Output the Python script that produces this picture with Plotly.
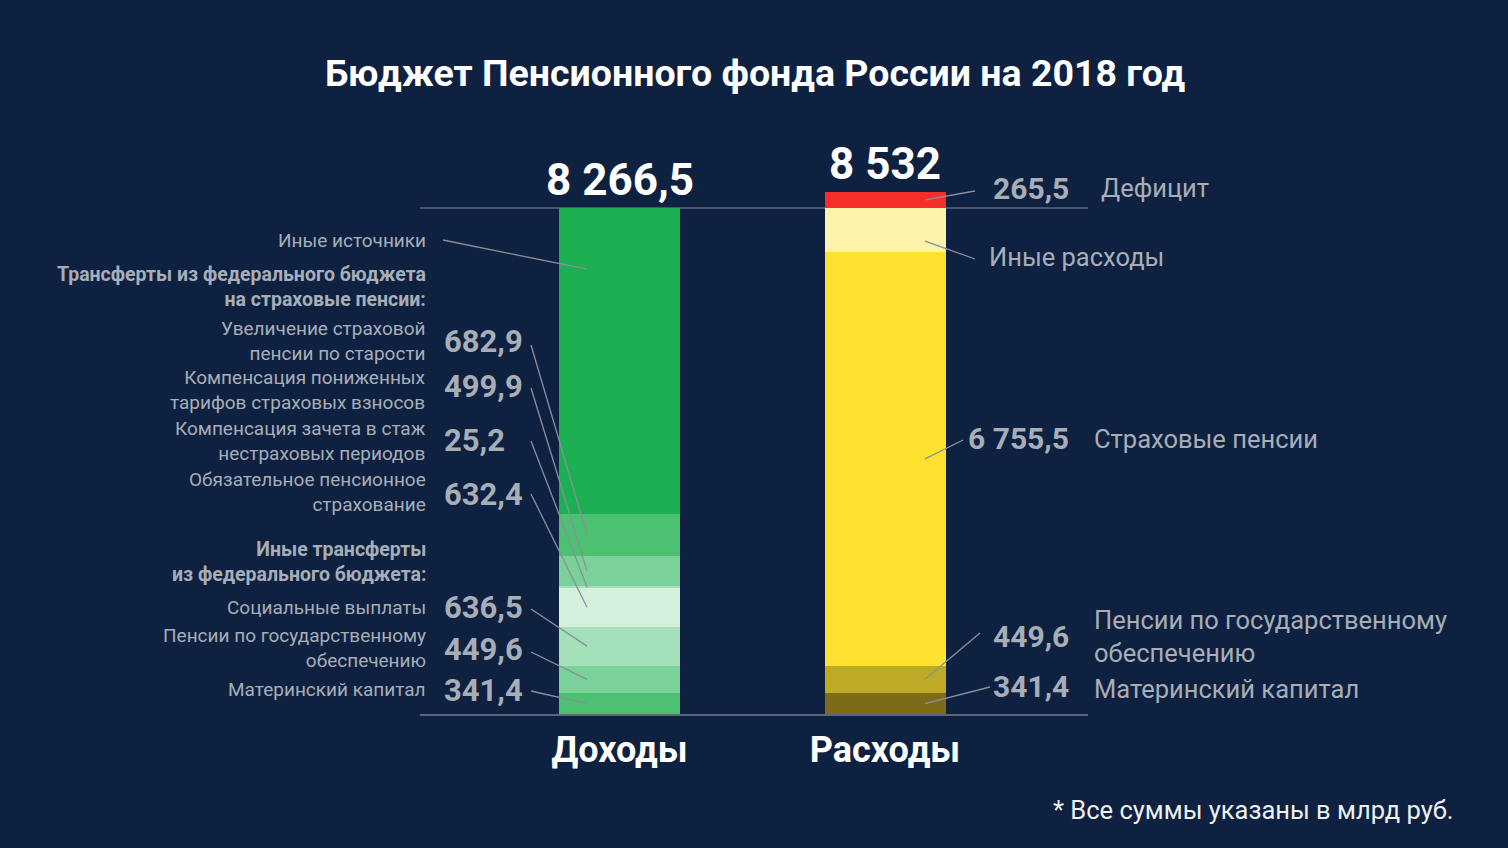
import plotly.graph_objects as go

# --- data (bln rub) ---
categories = ["Доходы", "Расходы"]
income_total = 8266.5
expense_total = 8532.0

income_names = ["Материнский капитал",
                "Пенсии по государственному\nобеспечению",
                "Социальные выплаты",
                "Обязательное пенсионное\nстрахование",
                "Компенсация зачета в стаж\nнестраховых периодов",
                "Компенсация пониженных\nтарифов страховых взносов",
                "Увеличение страховой\nпенсии по старости",
                "Иные источники"]
income_known = [341.4, 449.6, 636.5, 632.4, 25.2, 499.9, 682.9]
income_values = income_known + [round(income_total - sum(income_known), 1)]
income_colors = ["#4cc172", "#7bd19a", "#a4e0b9", "#d5efdd", "#a4e0b9",
                 "#7bd19a", "#4cc172", "#1db053"]

expense_names = ["Материнский капитал",
                 "Пенсии по государственному\nобеспечению",
                 "Страховые пенсии",
                 "Иные расходы",
                 "Дефицит"]
expense_known = [341.4, 449.6, 6755.5]
deficit = round(expense_total - income_total, 1)
expense_values = expense_known + [round(income_total - sum(expense_known), 1), deficit]
expense_colors = ["#7d6b18", "#bfaa25", "#fee22f", "#fdf2a9", "#f52e29"]

group_headers = ["Трансферты из федерального бюджета\nна страховые пенсии:",
                 "Иные трансферты\nиз федерального бюджета:"]

# --- layout helpers (pixel positions taken from the original poster) ---
W, H = 1508, 848
PL, PR, PT, PB = 420, 1088, 120, 714
TOP_PX = 208
px_per_unit = (PB - TOP_PX) / income_total
y_max = (PB - PT) / px_per_unit
bar_px = [619.5, 885]
step = bar_px[1] - bar_px[0]
x_lo = -(bar_px[0] - PL) / step
x_hi = x_lo + (PR - PL) / step

BG = "#0f2140"
GREY = "#a8aeb8"
LINE = "#8a909a"
FONT = "Roboto"


def xd(px):
    return (px - bar_px[0]) / step


def yd(py):
    return (PB - py) / px_per_unit


def xp(px):
    return (px - PL) / (PR - PL)


def yp(py):
    return (PB - py) / (PB - PT)


def fmt(v):
    if v == int(v):
        return "{:,}".format(int(v)).replace(",", " ")
    return "{:,.1f}".format(v).replace(",", " ").replace(".", ",")


fig = go.Figure()

for name, v, c in zip(income_names, income_values, income_colors):
    fig.add_trace(go.Bar(x=[categories[0]], y=[v], name=name.replace("\n", " "),
                         marker=dict(color=c, line_width=0), width=121 / step,
                         hoverinfo="skip"))
for name, v, c in zip(expense_names, expense_values, expense_colors):
    fig.add_trace(go.Bar(x=[categories[1]], y=[v], name=name.replace("\n", " "),
                         marker=dict(color=c, line_width=0), width=121 / step,
                         hoverinfo="skip"))

annotations = []
shapes = []


def text(px, py, s, size, color=GREY, bold=False, anchor="right"):
    s = s.replace("\n", "<br>")
    annotations.append(dict(
        x=xp(px), y=yp(py), xref="paper", yref="paper",
        text="<b>%s</b>" % s if bold else s, showarrow=False,
        xanchor=anchor, yanchor="middle", align=anchor if anchor != "center" else "center",
        borderpad=0,
        font=dict(family=FONT, size=size, color=color)))


def leader(x0, y0, x1, y1):
    shapes.append(dict(type="line", xref="x", yref="y", x0=x0, y0=y0, x1=x1, y1=y1,
                       line=dict(color=LINE, width=1.3), layer="above"))


# left side: income labels (text y, number y, line start y, anchor share of segment)
income_rows = [(689, 690, 691, 0.5), (648, 649, 652, 0.5), (607, 607, 609, 0.5),
               (492, 494, 494, 0.5), (441, 440, 441, 0.5), (390, 386, 388, 0.5),
               (341, 341, 345, 0.5), (240, None, 240, 0.8)]
base = 0
for name, v, (ty, ny, ly, share) in zip(income_names, income_values, income_rows):
    text(427, ty, name, 19)
    end = base + v * share
    if ny is None:
        leader(xd(443), yd(ly), xd(587), end)
    else:
        text(443, ny, fmt(v), 31, bold=True, anchor="left")
        leader(xd(531), yd(ly), xd(587), end)
    base += v

text(427, 287, group_headers[0], 19.5, bold=True)
text(427, 562, group_headers[1], 19.5, bold=True)

# right side: expense labels (label x, label y, number y, line start x, y, anchor share)
expense_rows = [(1093, 689, 686, 990, 687, 0.5), (1093, 636, 636, 980, 633, 0.5),
                (1093, 439, 439, 963, 440, 0.5), (988, 257, None, 975, 259, 0.25),
                (1100, 188, 188, 975, 191, 0.5)]
base = 0
for name, v, (lx, ty, ny, sx, sy, share) in zip(expense_names, expense_values, expense_rows):
    text(lx, ty, name, 25.5, anchor="left")
    if ny is not None:
        text(1070, ny, fmt(v), 30, bold=True, anchor="right")
    leader(xd(sx), yd(sy), xd(925), base + v * share)
    base += v

# totals above the bars
for cat, tot in zip(categories, [income_total, expense_total]):
    annotations.append(dict(x=cat, y=tot, xref="x", yref="y", text="<b>%s</b>" % fmt(tot),
                            showarrow=False, yanchor="bottom", yshift=0,
                            font=dict(family=FONT, size=44, color="white")))

# title and footnote
text(755, 73, "Бюджет Пенсионного фонда России на 2018 год", 37.5, color="white",
     bold=True, anchor="center")
text(1455, 810, "* Все суммы указаны в млрд руб.", 25.5, color="#eef0f3")

# line at income level
shapes.append(dict(type="line", xref="paper", yref="y", x0=0, x1=1,
                   y0=income_total, y1=income_total,
                   line=dict(color="#5d6676", width=1.5), layer="below"))

fig.update_layout(
    width=W, height=H,
    barmode="stack",
    showlegend=False,
    paper_bgcolor=BG,
    plot_bgcolor=BG,
    margin=dict(l=PL, r=W - PR, t=PT, b=H - PB),
    annotations=annotations,
    shapes=shapes,
    xaxis=dict(range=[x_lo, x_hi], showgrid=False, zeroline=False,
               showline=True, linecolor="#5d6676", linewidth=1.5,
               ticks="", ticklabelstandoff=3,
               tickfont=dict(family=FONT, size=36, color="white", weight="bold")),
    yaxis=dict(range=[0, y_max], showgrid=False, zeroline=False,
               showticklabels=False, fixedrange=True),
)

fig.write_html("out.html", config={"displayModeBar": False},
               post_script="document.body.style.margin='0';"
                           "document.body.style.background='%s';" % BG)
